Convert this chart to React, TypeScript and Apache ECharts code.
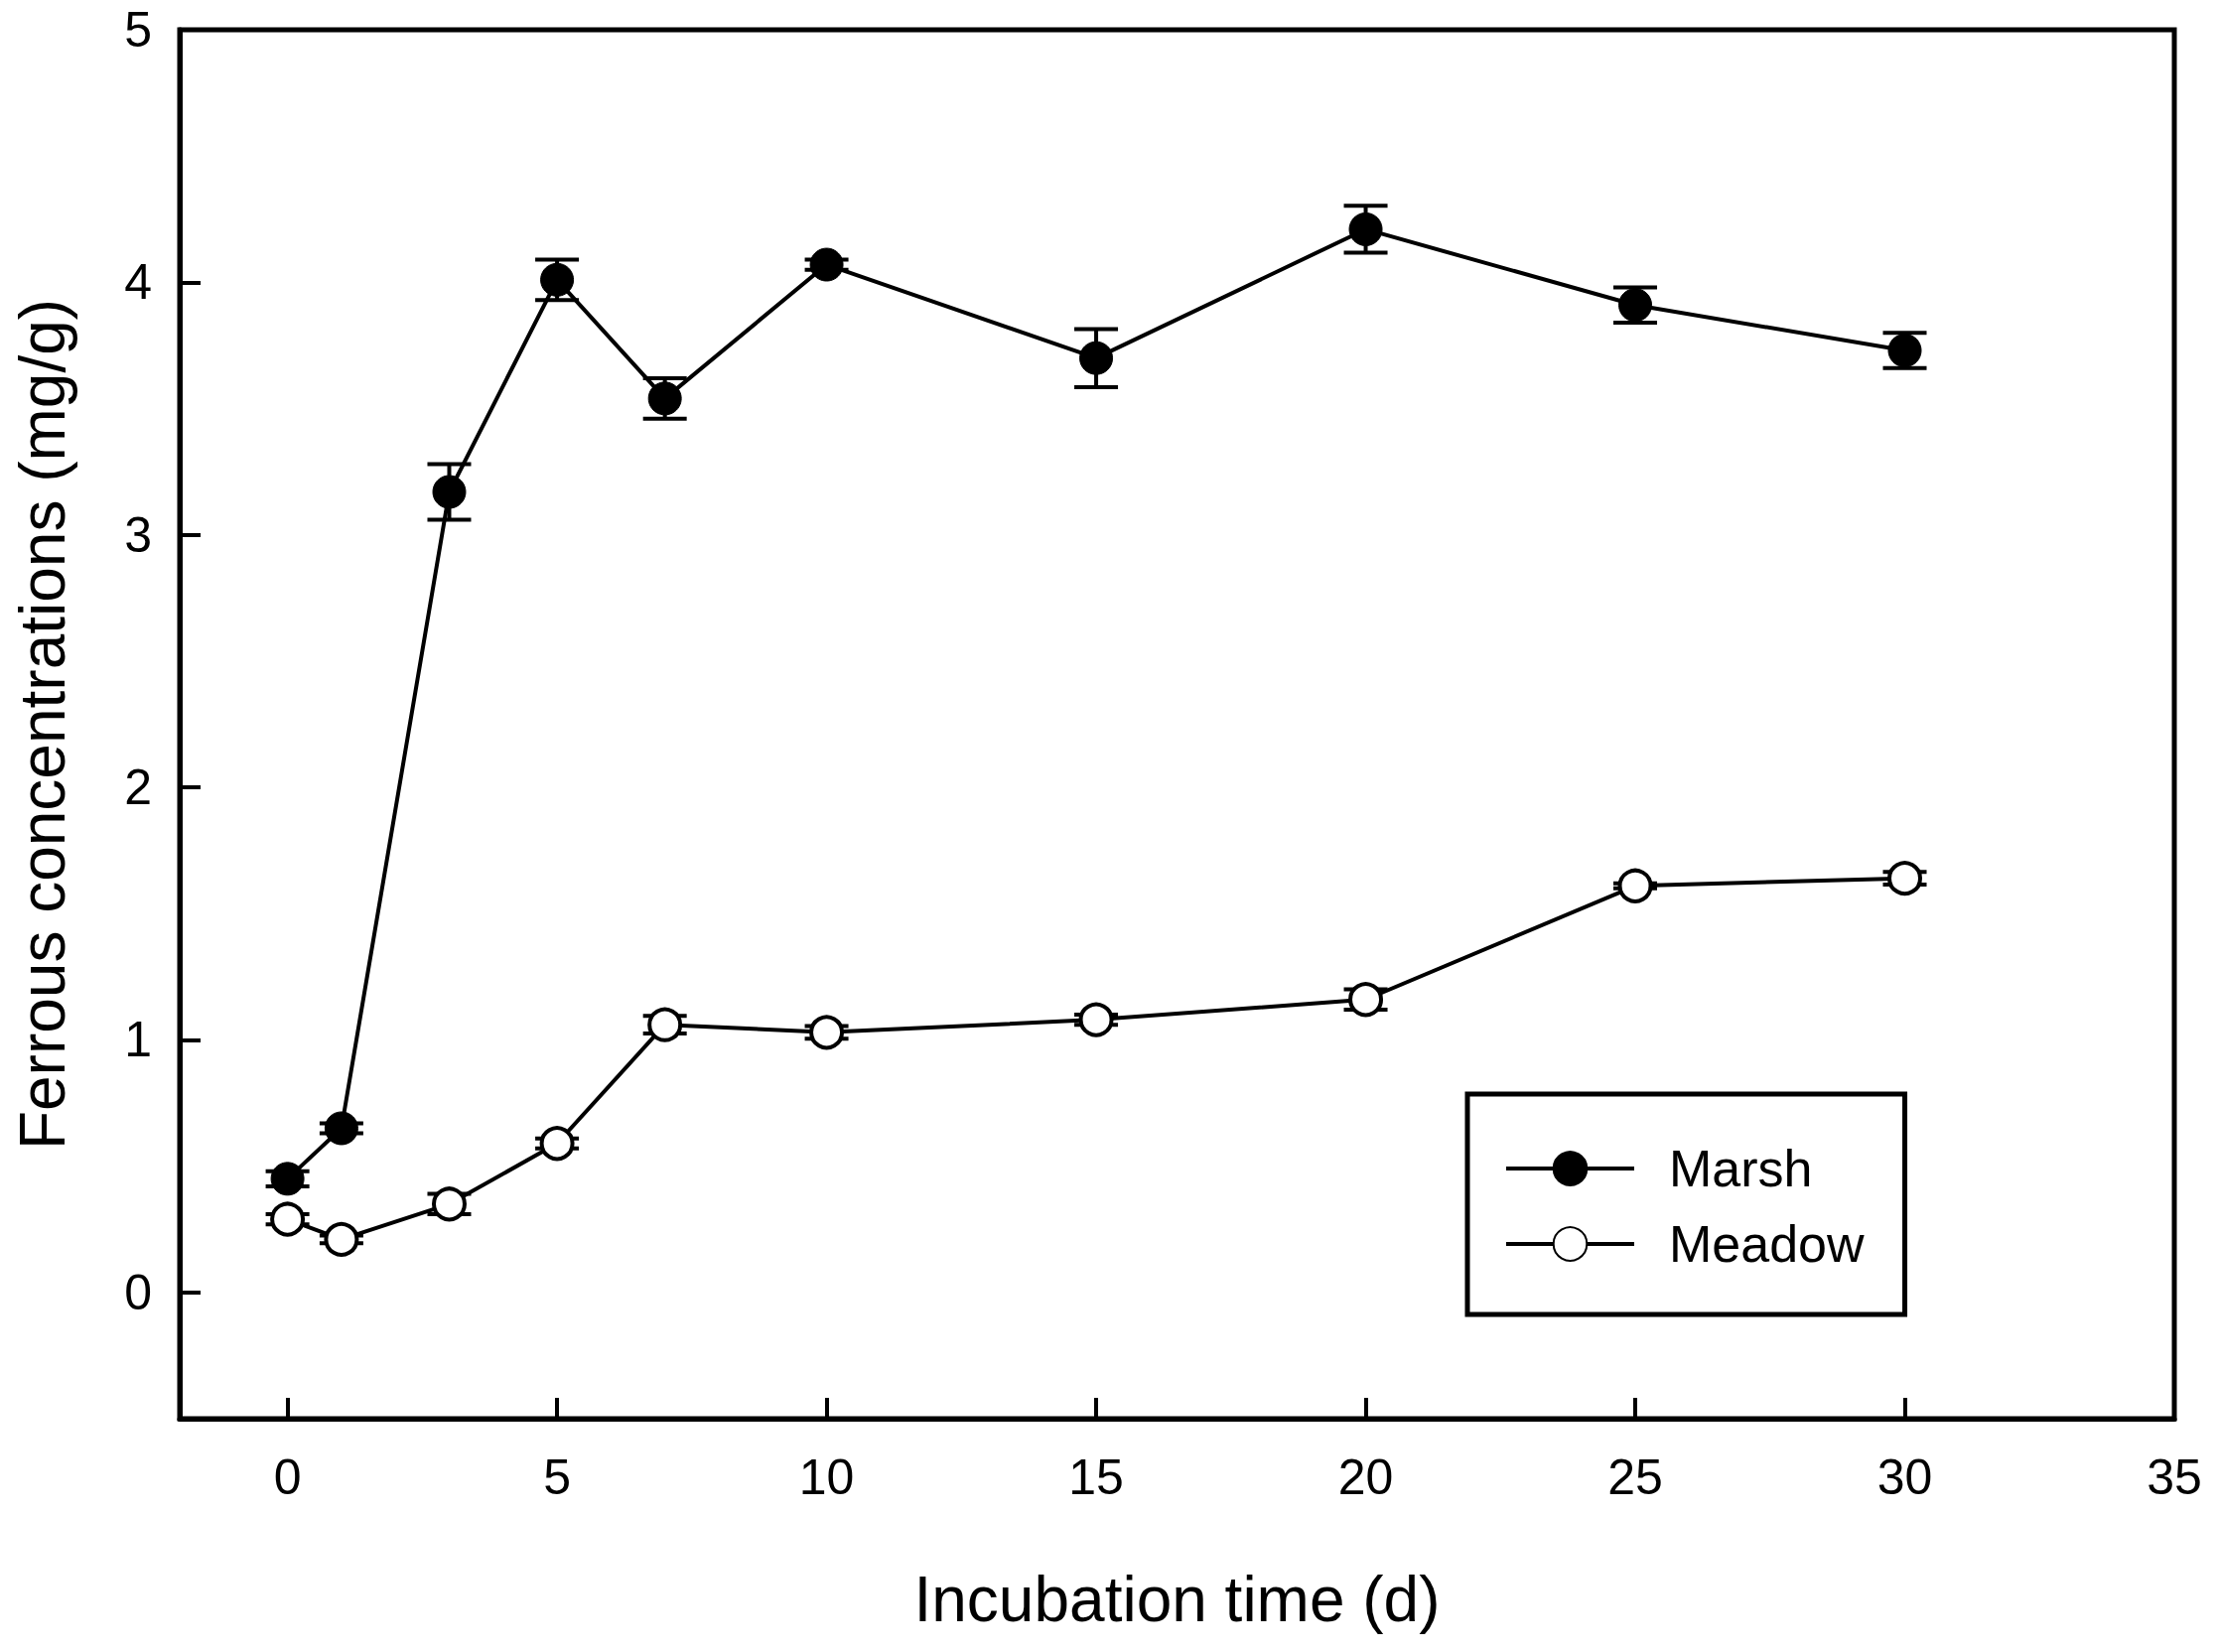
import React, { useEffect, useRef } from "react";
import * as echarts from "echarts";

const days = [0, 1, 3, 5, 7, 10, 15, 20, 25, 30];
const marshMean = [0.45, 0.65, 3.17, 4.01, 3.54, 4.07, 3.7, 4.21, 3.91, 3.73];
const marshErr = [0.03, 0.02, 0.11, 0.08, 0.08, 0.02, 0.115, 0.093, 0.07, 0.07];
const meadowMean = [0.29, 0.21, 0.35, 0.59, 1.06, 1.03, 1.08, 1.16, 1.61, 1.64];
const meadowErr = [0.02, 0.015, 0.04, 0.02, 0.035, 0.025, 0.02, 0.04, 0.01, 0.025];
const xTicks = [0, 5, 10, 15, 20, 25, 30, 35];
const yTicks = [0, 1, 2, 3, 4, 5];

const FONT = "'Liberation Sans', Arial, sans-serif";

function errorSeries(name: string, means: number[], errs: number[]) {
  return {
    type: "custom",
    name: name + " error",
    z: 1,
    silent: true,
    data: days.map((d, i) => [d, means[i] - errs[i], means[i] + errs[i]]),
    renderItem: (params: any, api: any) => {
      const x = api.value(0);
      const lo = api.coord([x, api.value(1)]);
      const hi = api.coord([x, api.value(2)]);
      const hw = 22;
      const style = { stroke: "#000", lineWidth: 4 };
      return {
        type: "group",
        children: [
          { type: "line", shape: { x1: lo[0], y1: lo[1], x2: hi[0], y2: hi[1] }, style },
          { type: "line", shape: { x1: lo[0] - hw, y1: lo[1], x2: lo[0] + hw, y2: lo[1] }, style },
          { type: "line", shape: { x1: hi[0] - hw, y1: hi[1], x2: hi[0] + hw, y2: hi[1] }, style },
        ],
      };
    },
  };
}

export default function App() {
  const ref = useRef<HTMLDivElement>(null);
  useEffect(() => {
    document.body.style.margin = "0";
    const chart = echarts.init(ref.current!, null, { renderer: "svg" });
    chart.setOption({
      animation: false,
      backgroundColor: "#fff",
      textStyle: { fontFamily: FONT, color: "#000" },
      grid: {
        left: 181,
        right: 45,
        top: 30,
        bottom: 235,
        show: true,
        borderColor: "#000",
        borderWidth: 5,
        backgroundColor: "transparent",
      },
      xAxis: {
        type: "value",
        min: -2,
        max: 35,
        name: "Incubation time (d)",
        nameLocation: "middle",
        nameGap: 150,
        nameTextStyle: { fontSize: 64, color: "#000", fontFamily: FONT },
        axisLine: { show: true, onZero: false, lineStyle: { color: "#000", width: 5 } },
        axisTick: { show: true, inside: true, length: 21, lineStyle: { color: "#000", width: 4 }, customValues: xTicks },
        axisLabel: { fontSize: 50, color: "#000", fontFamily: FONT, margin: 34, customValues: xTicks },
        splitLine: { show: false },
      },
      yAxis: {
        type: "value",
        min: -0.5,
        max: 5,
        name: "Ferrous concentrations (mg/g)",
        nameLocation: "middle",
        nameGap: 106,
        nameRotate: 90,
        nameTextStyle: { fontSize: 64, color: "#000", fontFamily: FONT },
        axisLine: { show: true, onZero: false, lineStyle: { color: "#000", width: 5 } },
        axisTick: { show: true, inside: true, length: 21, lineStyle: { color: "#000", width: 4 }, customValues: yTicks },
        axisLabel: { fontSize: 50, color: "#000", fontFamily: FONT, margin: 28, customValues: yTicks },
        splitLine: { show: false },
      },
      legend: {
        left: 1478,
        top: 1102,
        orient: "vertical",
        data: ["Marsh", "Meadow"],
        itemWidth: 129,
        itemHeight: 42,
        itemGap: 24,
        padding: [49, 41, 45, 37],
        borderColor: "#000",
        borderWidth: 5,
        borderRadius: 0,
        backgroundColor: "#fff",
        lineStyle: { color: "#000", width: 4 },
        textStyle: { fontSize: 52, color: "#000", fontFamily: FONT, padding: [0, 0, 0, 30] },
      },
      series: [
        errorSeries("Marsh", marshMean, marshErr),
        errorSeries("Meadow", meadowMean, meadowErr),
        {
          type: "line",
          name: "Marsh",
          z: 3,
          data: days.map((d, i) => [d, marshMean[i]]),
          symbol: "circle",
          symbolSize: 33,
          lineStyle: { color: "#000", width: 4 },
          itemStyle: { color: "#000", borderColor: "#000", borderWidth: 1 },
        },
        {
          type: "line",
          name: "Meadow",
          z: 3,
          data: days.map((d, i) => [d, meadowMean[i]]),
          symbol: "circle",
          symbolSize: 31,
          lineStyle: { color: "#000", width: 4 },
          itemStyle: { color: "#fff", borderColor: "#000", borderWidth: 4 },
        },
      ],
    });
    return () => chart.dispose();
  }, []);
  return <div ref={ref} style={{ width: 2235, height: 1664 }} />;
}
